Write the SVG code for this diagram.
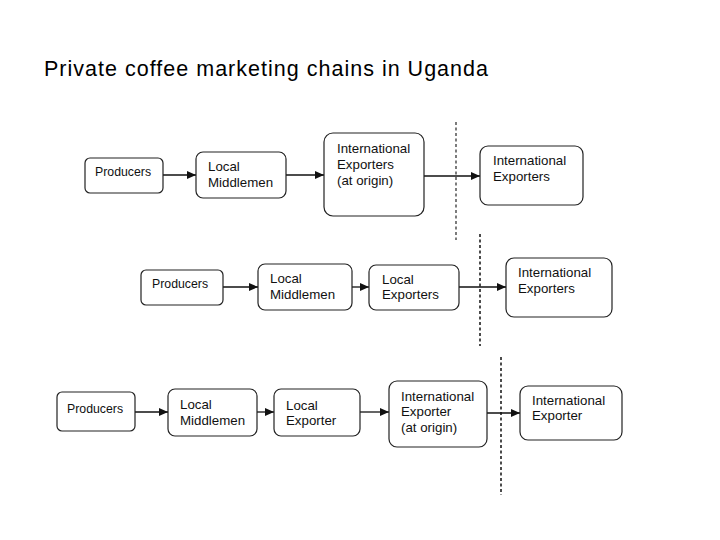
<svg xmlns="http://www.w3.org/2000/svg" width="720" height="540" viewBox="0 0 720 540">
<style>
.n{fill:#fff;stroke:#222;stroke-width:1.2}
.t{font-family:"Liberation Sans",Arial,sans-serif;font-size:13.3px;fill:#111}
.p{font-size:12.3px}
.c{stroke:#111;stroke-width:1.3;fill:none;marker-end:url(#a)}
.d{stroke:#111;stroke-width:1.5;stroke-dasharray:3 2.5;fill:none}
.ttl{font-family:"Liberation Sans",Arial,sans-serif;font-size:21.5px;fill:#000}
</style>
<defs>
<marker id="a" markerWidth="9" markerHeight="8" refX="9" refY="4" orient="auto" markerUnits="userSpaceOnUse">
<path d="M0,0 L9,4 L0,8 Z" fill="#111"/>
</marker>
</defs>
<rect width="720" height="540" fill="#fff"/>
<text class="ttl" x="44" y="76" textLength="444" lengthAdjust="spacing">Private coffee marketing chains in Uganda</text>
<g id="dividers">
<line class="d" x1="456" y1="122" x2="456" y2="240" style="stroke-width:1.1"/>
<line class="d" x1="480" y1="234" x2="480" y2="346"/>
<line class="d" x1="501" y1="357" x2="501" y2="495"/>
</g>
<g id="connectors">
<line class="c" x1="163" y1="175" x2="196" y2="175"/>
<line class="c" x1="286" y1="175" x2="324" y2="175"/>
<line class="c" x1="424" y1="176" x2="480" y2="176"/>
<line class="c" x1="223" y1="287" x2="258" y2="287"/>
<line class="c" x1="352" y1="287" x2="369" y2="287"/>
<line class="c" x1="459" y1="287" x2="506" y2="287"/>
<line class="c" x1="135" y1="412" x2="168" y2="412"/>
<line class="c" x1="257" y1="412" x2="274" y2="412"/>
<line class="c" x1="360" y1="412" x2="389" y2="412"/>
<line class="c" x1="487" y1="413" x2="520" y2="413"/>
</g>
<g id="r1-producers"><rect class="n" x="85" y="158" width="78" height="35" rx="5"/><text class="t p" x="95" y="176">Producers</text></g>
<g id="r1-middlemen"><rect class="n" x="196" y="152" width="90" height="46" rx="7"/><text class="t" x="208" y="171">Local</text><text class="t" x="208" y="187">Middlemen</text></g>
<g id="r1-intl-origin"><rect class="n" x="324" y="133" width="100" height="83" rx="9"/><text class="t" x="337" y="153">International</text><text class="t" x="337" y="169">Exporters</text><text class="t" x="337" y="185">(at origin)</text></g>
<g id="r1-intl"><rect class="n" x="480" y="146" width="103" height="59" rx="8"/><text class="t" x="493" y="165">International</text><text class="t" x="493" y="181">Exporters</text></g>
<g id="r2-producers"><rect class="n" x="141" y="270" width="82" height="35" rx="5"/><text class="t p" x="152" y="288">Producers</text></g>
<g id="r2-middlemen"><rect class="n" x="258" y="264" width="94" height="46" rx="7"/><text class="t" x="270" y="283">Local</text><text class="t" x="270" y="299">Middlemen</text></g>
<g id="r2-local-exp"><rect class="n" x="369" y="265" width="90" height="45" rx="7"/><text class="t" x="382" y="284">Local</text><text class="t" x="382" y="299">Exporters</text></g>
<g id="r2-intl"><rect class="n" x="506" y="258" width="106" height="59" rx="8"/><text class="t" x="518" y="277">International</text><text class="t" x="518" y="293">Exporters</text></g>
<g id="r3-producers"><rect class="n" x="57" y="392" width="78" height="39" rx="5"/><text class="t p" x="67" y="413">Producers</text></g>
<g id="r3-middlemen"><rect class="n" x="168" y="389" width="89" height="47" rx="7"/><text class="t" x="180" y="409">Local</text><text class="t" x="180" y="425">Middlemen</text></g>
<g id="r3-local-exp"><rect class="n" x="274" y="389" width="86" height="47" rx="7"/><text class="t" x="286" y="410">Local</text><text class="t" x="286" y="425">Exporter</text></g>
<g id="r3-intl-origin"><rect class="n" x="389" y="381" width="98" height="66" rx="8"/><text class="t" x="401" y="401">International</text><text class="t" x="401" y="416">Exporter</text><text class="t" x="401" y="432">(at origin)</text></g>
<g id="r3-intl"><rect class="n" x="520" y="386" width="102" height="54" rx="8"/><text class="t" x="532" y="405">International</text><text class="t" x="532" y="420">Exporter</text></g>
</svg>
